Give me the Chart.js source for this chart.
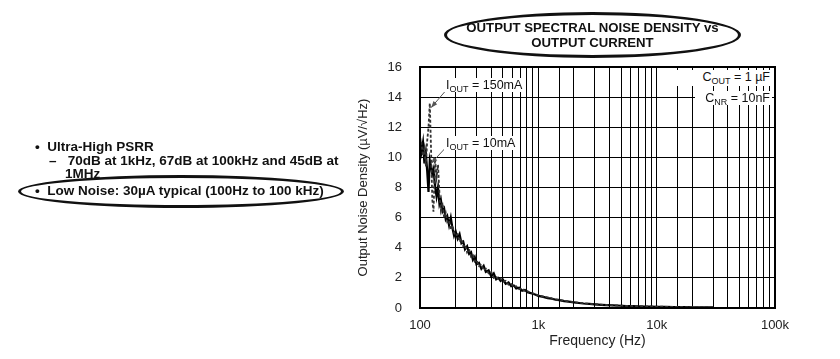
<!DOCTYPE html>
<html>
<head>
<meta charset="utf-8">
<script src="https://cdn.jsdelivr.net/npm/chart.js@4.4.1/dist/chart.umd.min.js"></script>
<style>
  body { margin: 0; background: #fff; }
  #wrap { position: relative; width: 840px; height: 359px; overflow: hidden; font-family: Arial, "Liberation Sans", sans-serif; }
  #chart { position: absolute; left: 0; top: 0; }
  .txt { position: absolute; white-space: nowrap; color: #111; }
  .bold { font-weight: bold; font-size: 13.5px; }
  .ring { position: absolute; border: 3px solid #111; border-radius: 50%; box-sizing: border-box; }
  .lbl { position: absolute; white-space: nowrap; font-size: 12.5px; color: #111; background: #fff; line-height: 14px; padding: 0 2px; }
  .lbl sub { font-size: 9px; vertical-align: -3px; line-height: 0; }
</style>
</head>
<body>
<div id="wrap">
  <canvas id="chart" width="840" height="359"></canvas>

  <div class="txt bold" style="left:35px; top:139px;">•&nbsp; Ultra-High PSRR</div>
  <div class="txt bold" style="left:49px; top:153px;">–&nbsp;&nbsp; 70dB at 1kHz, 67dB at 100kHz and 45dB at</div>
  <div class="txt bold" style="left:65px; top:166px;">1MHz</div>
  <div class="ring" style="left:18px; top:175px; width:326px; height:33px; background:transparent;"></div>
  <div class="txt bold" style="left:35px; top:183px;">•&nbsp; Low Noise: 30µA typical (100Hz to 100 kHz)</div>

  <div class="ring" style="left:444px; top:12px; width:297px; height:46px;"></div>
  <div class="txt" style="left:444px; top:20px; width:297px; text-align:center; font-weight:bold; font-size:13.2px; line-height:15px;">OUTPUT SPECTRAL NOISE DENSITY vs<br>OUTPUT CURRENT</div>

  <div class="lbl" style="left:444px; top:78px;">I<sub>OUT</sub> = 150mA</div>
  <div class="lbl" style="left:444px; top:136px;">I<sub>OUT</sub> = 10mA</div>
  <div class="lbl" style="left:662px; top:70px; width:106px; text-align:right; padding-bottom:2px;">C<sub>OUT</sub> = 1 µF</div>
  <div class="lbl" style="left:695px; top:91px; width:73px; text-align:right;">C<sub>NR</sub> = 10nF</div>
</div>

<script>
// frequency points (Hz)
const freq = [100, 103, 106, 109, 112, 115, 118, 121, 124, 127, 130, 134, 138, 142, 146, 150, 155, 160, 165, 170,
  176, 182, 188, 194, 200, 208, 216, 224, 232, 240, 250, 260, 270, 280, 290, 300, 315, 330, 345, 360,
  380, 400, 420, 440, 460, 480, 500, 530, 560, 590, 620, 650, 690, 730, 770, 810, 850, 900, 950, 1000,
  1100, 1200, 1300, 1400, 1500, 1650, 1800, 2000, 2200, 2400, 2700, 3000, 3400, 3800, 4300, 5000, 5600, 6300, 7000, 8000,
  9000, 10000, 12000, 14000, 16000, 18000, 20000, 23000, 26000, 30000];

// IOUT = 10mA (solid)
const noise10mA = [11.3, 10.4, 11.0, 9.6, 10.3, 9.1, 7.7, 9.8, 9.4, 8.9, 9.2, 8.1, 7.4, 8.0, 6.9, 7.2, 6.4, 6.6, 5.9, 6.1,
  5.5, 6.0, 5.3, 4.8, 5.1, 4.6, 4.9, 4.3, 4.4, 3.9, 4.1, 3.6, 3.7, 3.2, 3.4, 2.9, 3.0, 2.6, 2.8, 2.4,
  2.5, 2.1, 2.3, 1.9, 2.0, 1.8, 1.9, 1.6, 1.7, 1.45, 1.5, 1.3, 1.35, 1.15, 1.2, 1.05, 1.0, 0.95, 0.88, 0.8,
  0.74, 0.66, 0.62, 0.55, 0.52, 0.46, 0.42, 0.37, 0.33, 0.3, 0.27, 0.24, 0.21, 0.19, 0.17, 0.15, 0.13, 0.12, 0.11, 0.1,
  0.09, 0.08, 0.07, 0.065, 0.06, 0.055, 0.05, 0.05, 0.045, 0.04];

// IOUT = 150mA (dashed)
const noise150mA = [10.8, 10.9, 10.1, 10.6, 9.4, 11.1, 12.0, 13.6, 10.5, 7.2, 6.4, 9.9, 8.7, 9.5, 7.6, 6.5, 7.0, 6.0, 6.3, 5.7,
  5.8, 5.2, 5.5, 5.0, 4.8, 4.9, 4.4, 4.6, 4.1, 4.2, 3.7, 3.9, 3.4, 3.5, 3.1, 3.2, 2.8, 2.9, 2.5, 2.6,
  2.3, 2.4, 2.0, 2.1, 1.9, 1.95, 1.75, 1.8, 1.55, 1.6, 1.4, 1.45, 1.25, 1.3, 1.1, 1.12, 1.02, 0.98, 0.9, 0.85,
  0.76, 0.7, 0.63, 0.58, 0.54, 0.48, 0.44, 0.39, 0.35, 0.32, 0.28, 0.25, 0.22, 0.2, 0.18, 0.16, 0.14, 0.13, 0.12, 0.11,
  0.1, 0.09, 0.08, 0.07, 0.065, 0.06, 0.055, 0.05, 0.05, 0.045];

const xTickValues = [100, 1000, 10000, 100000];
const xTickLabels = ['100', '1k', '10k', '100k'];

// arrows from the labels to the curves, in data units [Hz, value]
const arrowTails = [[168, 14.5], [163, 10.6]];
const arrowTips = [[124, 13.3], [124, 9.6]];

const font = 'Arial, "Liberation Sans", sans-serif';

const frame = {
  id: 'frame',
  afterDatasetsDraw(chart) {
    const {ctx, chartArea: a, scales: {x, y}} = chart;
    ctx.save();
    ctx.strokeStyle = '#555';
    ctx.fillStyle = '#555';
    ctx.lineWidth = 1;
    arrowTails.forEach((t, i) => {
      const x0 = x.getPixelForValue(t[0]), y0 = y.getPixelForValue(t[1]);
      const x1 = x.getPixelForValue(arrowTips[i][0]), y1 = y.getPixelForValue(arrowTips[i][1]);
      const ang = Math.atan2(y1 - y0, x1 - x0);
      ctx.beginPath();
      ctx.moveTo(x0, y0);
      ctx.lineTo(x1, y1);
      ctx.stroke();
      ctx.beginPath();
      ctx.moveTo(x1, y1);
      ctx.lineTo(x1 - 7 * Math.cos(ang - 0.35), y1 - 7 * Math.sin(ang - 0.35));
      ctx.lineTo(x1 - 7 * Math.cos(ang + 0.35), y1 - 7 * Math.sin(ang + 0.35));
      ctx.closePath();
      ctx.fill();
    });
    ctx.strokeStyle = '#000';
    ctx.lineWidth = 2;
    ctx.strokeRect(a.left, a.top, a.right - a.left, a.bottom - a.top);
    ctx.restore();
  }
};

new Chart(document.getElementById('chart').getContext('2d'), {
  type: 'scatter',
  data: {
    datasets: [
      {
        label: 'IOUT = 150mA',
        data: freq.map((f, i) => ({x: f, y: noise150mA[i]})),
        showLine: true,
        borderColor: '#333',
        borderWidth: 1.8,
        borderDash: [3, 2],
        pointRadius: 0,
        tension: 0
      },
      {
        label: 'IOUT = 10mA',
        data: freq.map((f, i) => ({x: f, y: noise10mA[i]})),
        showLine: true,
        borderColor: '#000',
        borderWidth: 2.2,
        pointRadius: 0,
        tension: 0
      }
    ]
  },
  options: {
    responsive: false,
    animation: false,
    devicePixelRatio: 1,
    layout: {padding: {left: 350, top: 67, right: 65, bottom: 0}},
    plugins: {legend: {display: false}, tooltip: {enabled: false}},
    scales: {
      x: {
        type: 'logarithmic',
        min: 100,
        max: 100000,
        grid: {color: '#000', lineWidth: 1, drawTicks: false},
        border: {color: '#000', width: 2},
        ticks: {
          autoSkip: false,
          maxRotation: 0,
          padding: 10,
          color: '#222',
          font: {family: font, size: 13},
          callback: (v) => {
            const i = xTickValues.findIndex(t => Math.abs(t - v) < 1e-6 * t);
            return i >= 0 ? xTickLabels[i] : '';
          }
        },
        title: {display: true, text: 'Frequency (Hz)', color: '#222', font: {family: font, size: 14}, padding: {top: 0, bottom: 9}},
        afterFit: (s) => { s.height = 51; }
      },
      y: {
        min: 0,
        max: 16,
        grid: {color: '#000', lineWidth: 1, drawTicks: false},
        border: {color: '#000', width: 2},
        ticks: {stepSize: 2, padding: 18, color: '#222', font: {family: font, size: 13}},
        title: {display: true, text: 'Output Noise Density (µV/√Hz)', color: '#222', font: {family: font, size: 13}, padding: {top: 6, bottom: 0}},
        afterFit: (s) => { s.width = 70; }
      }
    }
  },
  plugins: [frame]
});
</script>
</body>
</html>
